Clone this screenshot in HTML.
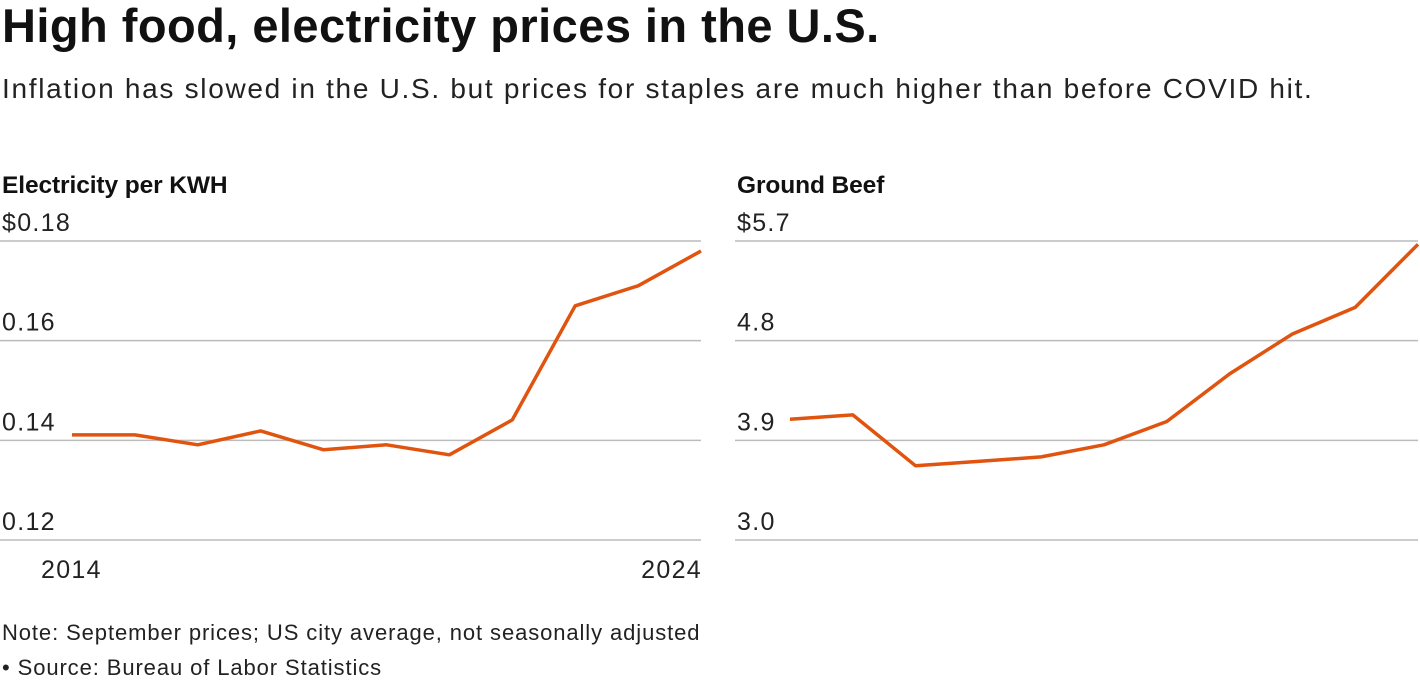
<!DOCTYPE html>
<html><head><meta charset="utf-8"><style>
body{margin:0;width:1420px;height:686px;background:#fff;font-family:"Liberation Sans",Arial,sans-serif;color:#111;overflow:hidden;position:relative}
.t{position:absolute;white-space:nowrap}
</style></head><body>
<div class="t" style="left:2px;top:-2px;font-size:47px;font-weight:bold;letter-spacing:0.45px">High food, electricity prices in the U.S.</div>
<div class="t" style="left:2px;top:73px;font-size:28px;color:#222;letter-spacing:1.7px">Inflation has slowed in the U.S. but prices for staples are much higher than before COVID hit.</div>
<svg id="svg" width="1420" height="686" style="position:absolute;left:0;top:0"></svg>
<div class="t" style="left:2px;top:620px;font-size:22px;color:#222;letter-spacing:0.9px">Note: September prices; US city average, not seasonally adjusted</div>
<div class="t" style="left:2px;top:655px;font-size:22px;color:#222;letter-spacing:0.9px">• Source: Bureau of Labor Statistics</div>
<script>
const years=[2014,2015,2016,2017,2018,2019,2020,2021,2022,2023,2024];
const elecValues=[0.1411,0.1411,0.1391,0.1419,0.1381,0.1391,0.1371,0.1441,0.1670,0.1710,0.1780];
const beefValues=[4.09,4.13,3.67,3.71,3.75,3.86,4.07,4.50,4.86,5.10,5.67];
const elecTicks=[0.12,0.14,0.16,0.18];
const elecTickLabels=["0.12","0.14","0.16","$0.18"];
const beefTicks=[3.0,3.9,4.8,5.7];
const beefTickLabels=["3.0","3.9","4.8","$5.7"];
const NS="http://www.w3.org/2000/svg";
const svg=document.getElementById('svg');
function mk(tag,attrs){const e=document.createElementNS(NS,tag);for(const k in attrs)e.setAttribute(k,attrs[k]);svg.appendChild(e);return e;}
function panel(p){
  const x=i=>p.x0+(p.x1-p.x0)*i/(years.length-1);
  const y=v=>p.yTop+(p.max-v)/(p.max-p.min)*(p.yBot-p.yTop);
  const t=mk('text',{x:p.gx0+2,y:193,'font-size':24.5,'font-weight':'bold',fill:'#111','letter-spacing':'-0.1'});t.textContent=p.title;
  
  
  p.ticks.forEach((v,i)=>{
    const l=mk('line',{x1:p.gx0,x2:p.gx1,y1:y(v),y2:y(v),stroke:'#bbb','stroke-width':1.5});
    
    
    const tx=mk('text',{x:p.gx0+2,y:y(v)-10,'font-size':25,fill:'#222','letter-spacing':'1.3'});tx.textContent=p.labels[i];
    
    
  });
  const d=p.vals.map((v,i)=>(i?'L':'M')+x(i).toFixed(1)+','+y(v).toFixed(1)).join('');
  const path=mk('path',{d:d,fill:'none',stroke:'#e0540f','stroke-width':3.5,'stroke-linejoin':'round'});
  
  
  if(p.xlabels){
    [0,years.length-1].forEach(i=>{
      const tx=mk('text',{x:i==0?x(i)-31:x(i)+1,y:578,'font-size':25,fill:'#222','letter-spacing':'1.3','text-anchor':i==0?'start':'end'});tx.textContent=years[i];
      
      
    });
  }
}
panel({key:'electricity',title:'Electricity per KWH',x0:72,x1:701,gx0:0,gx1:701,yTop:241,yBot:540,min:0.12,max:0.18,ticks:elecTicks,labels:elecTickLabels,vals:elecValues,xlabels:true});
panel({key:'beef',title:'Ground Beef',x0:790,x1:1418,gx0:735,gx1:1418,yTop:241,yBot:540,min:3.0,max:5.7,ticks:beefTicks,labels:beefTickLabels,vals:beefValues,xlabels:false});
</script>
</body></html>
